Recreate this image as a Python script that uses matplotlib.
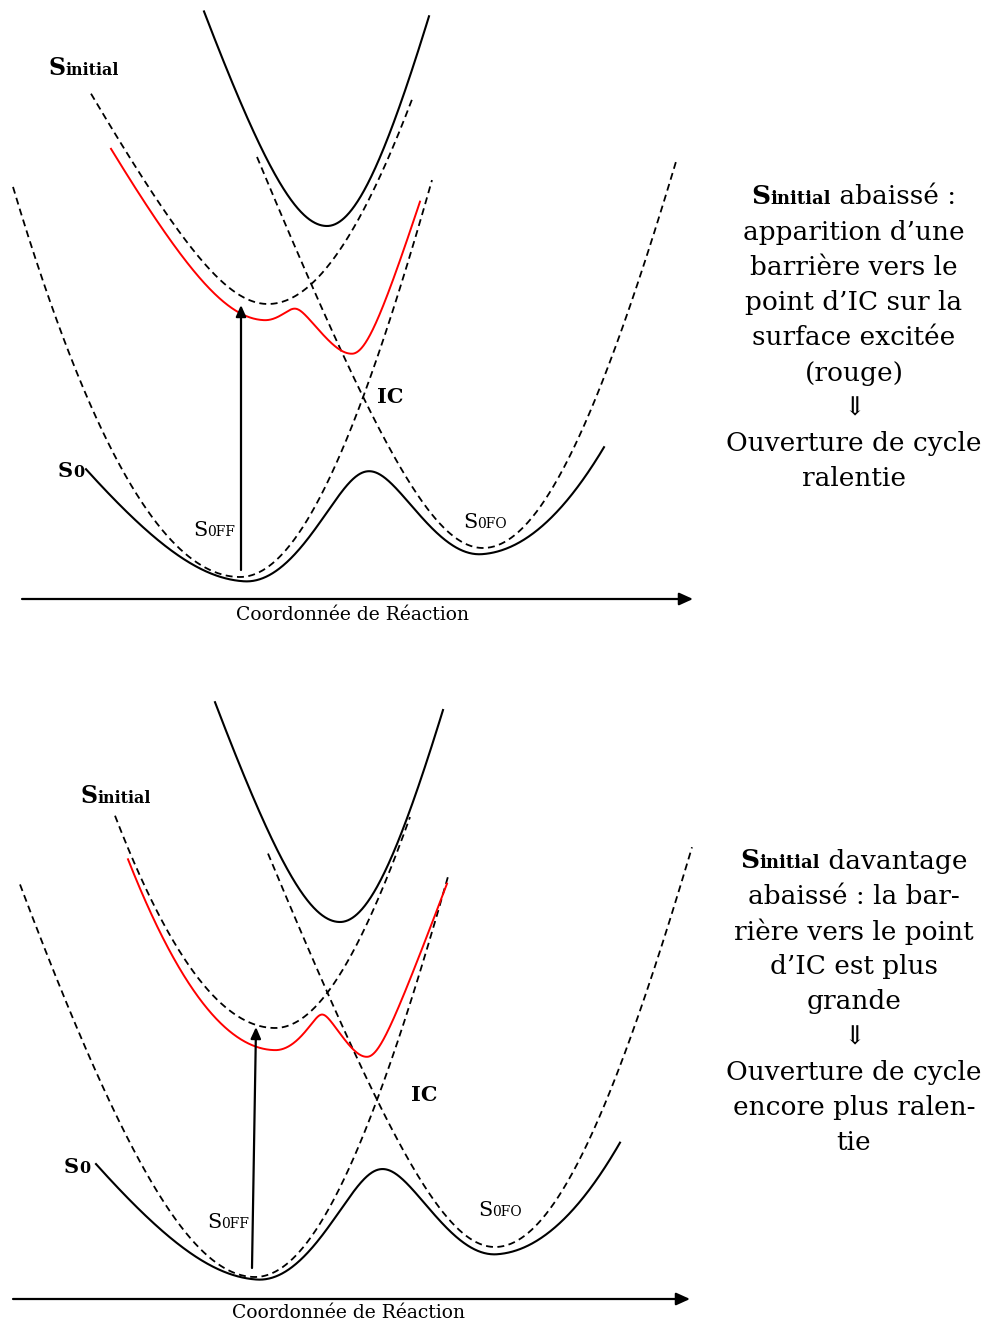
import numpy as np
import matplotlib
matplotlib.use('Agg')
import matplotlib.pyplot as plt
from matplotlib.offsetbox import TextArea, HPacker, AnnotationBbox

plt.rcParams['font.family'] = ['DejaVu Serif']
plt.rcParams['lines.scale_dashes'] = False

# Each well: (x of minimum, y of minimum, left slope, left width, right slope, right width)
# Frame is the picture's pixel frame, energy grows upward (y downward).

# --- top panel ---
top_s0ff = [240, 577, 10.0, 641, 5.0, 192.5]
top_s0ff_x = (13, 432)
top_s0fo = [483, 548, 2.6, 94.6, 4.5, 174]
top_s0fo_x = (257, 677)
top_sinit = [268, 304, 1.86, 82, 5.0, 233]
top_sinit_x = (91, 413)
top_upper = [327, 226, 3.0, 70, 4.0, 73]
top_upper_x = (204, 429)
top_s0_left = [244, 569, 1.37, 120, 5.0, 192.5]
top_s0_right = [482, 544, 2.6, 94.6, 7.0, 500]
top_s0_x = (86, 604)
top_red_left = [264, 318, 1.86, 82, 6.0, 130]
top_red_right = [352, 353, 1.5, 25, 3.2, 25]
top_red_x = (111, 420)
top_coupling = [75, 12]   # S0 barrier, red barrier

# --- bottom panel ---
bot_s0ff = [255, 1277, 3.27, 170, 5.0, 192.5]
bot_s0ff_x = (20, 448)
bot_s0fo = [495, 1247, 2.6, 94.6, 4.5, 174]
bot_s0fo_x = (268, 692)
bot_sinit = [275, 1028, 8.5, 500, 4.48, 170]
bot_sinit_x = (115, 410)
bot_upper = [340, 922, 3.0, 70, 4.0, 73.6]
bot_upper_x = (215, 443)
bot_s0_left = [257, 1267, 1.37, 120, 5.0, 192.5]
bot_s0_right = [497, 1244, 2.6, 94.6, 7.2, 500]
bot_s0_x = (96, 620)
bot_red_left = [275, 1049, 9.0, 500, 6.0, 136]
bot_red_right = [367, 1056, 1.8, 20, 2.7, 18]
bot_red_x = (128, 447)
bot_coupling = [76, 12]

top_note_head = 'abaissé :'
top_note = ['apparition d’une', 'barrière vers le', 'point d’IC sur la',
            'surface excitée', '(rouge)', '⇓', 'Ouverture de cycle', 'ralentie']
bot_note_head = 'davantage'
bot_note = ['abaissé : la bar-', 'rière vers le point', 'd’IC est plus', 'grande',
            '⇓', 'Ouverture de cycle', 'encore plus ralen-', 'tie']


def well(x, p):
    x0, y0, sl, wl, sr, wr = p
    dx = x - x0
    s = np.where(dx < 0, sl, sr)
    w = np.where(dx < 0, wl, wr)
    return y0 - s * (np.sqrt(w ** 2 + dx ** 2) - w)


def lower(y1, y2, c):
    # lower-energy branch of two coupled curves (y grows downward)
    return (y1 + y2) / 2 + np.sqrt(((y1 - y2) / 2) ** 2 + c ** 2)


def label(ax, parts, xy):
    boxes = [TextArea(t, textprops=p) for t, p in parts]
    pack = HPacker(children=boxes, align='baseline', pad=0, sep=0)
    ab = AnnotationBbox(pack, xy, xycoords='data', box_alignment=(0.5, 0.5),
                        frameon=False, pad=0)
    ax.add_artist(ab)


def panel(ax, s0ff, s0ff_x, s0fo, s0fo_x, sinit, sinit_x, upper, upper_x,
          s0l, s0r, s0_x, red_l, red_r, red_x, coupling):
    dash = dict(color='k', lw=1.3, ls=(0, (5.0, 3.2)))
    for p, rng in [(s0ff, s0ff_x), (s0fo, s0fo_x), (sinit, sinit_x)]:
        x = np.linspace(rng[0], rng[1], 500)
        ax.plot(x, well(x, p), **dash)

    x = np.linspace(upper_x[0], upper_x[1], 500)
    ax.plot(x, well(x, upper), color='k', lw=1.5)

    x = np.linspace(s0_x[0], s0_x[1], 800)
    ax.plot(x, lower(well(x, s0l), well(x, s0r), coupling[0]), color='k', lw=1.5)

    x = np.linspace(red_x[0], red_x[1], 800)
    ax.plot(x, lower(well(x, red_l), well(x, red_r), coupling[1]),
            color='#ff0000', lw=1.4)


fig = plt.figure(figsize=(9.85, 13.26), dpi=100)
ax = fig.add_axes([0, 0, 1, 1])
ax.set_xlim(0, 985)
ax.set_ylim(1326, 0)
ax.axis('off')

panel(ax, top_s0ff, top_s0ff_x, top_s0fo, top_s0fo_x, top_sinit, top_sinit_x,
      top_upper, top_upper_x, top_s0_left, top_s0_right, top_s0_x,
      top_red_left, top_red_right, top_red_x, top_coupling)
panel(ax, bot_s0ff, bot_s0ff_x, bot_s0fo, bot_s0fo_x, bot_sinit, bot_sinit_x,
      bot_upper, bot_upper_x, bot_s0_left, bot_s0_right, bot_s0_x,
      bot_red_left, bot_red_right, bot_red_x, bot_coupling)

# reaction-coordinate axes and excitation arrows
axis_arrow = dict(arrowstyle='-|>,head_length=0.55,head_width=0.25', color='k',
                  lw=1.6, mutation_scale=15, shrinkA=0, shrinkB=0)
exc_arrow = dict(arrowstyle='-|>,head_length=0.45,head_width=0.2', color='k',
                 lw=1.6, mutation_scale=15, shrinkA=0, shrinkB=0)
ax.annotate('', xy=(693, 599), xytext=(22, 599), arrowprops=axis_arrow)
ax.annotate('', xy=(690, 1299), xytext=(13, 1299), arrowprops=axis_arrow)
ax.annotate('', xy=(241, 305), xytext=(241, 570), arrowprops=exc_arrow)
ax.annotate('', xy=(256, 1027), xytext=(252, 1268), arrowprops=exc_arrow)

ax.text(353, 615, 'Coordonnée de Réaction', fontsize=13.5, ha='center', va='center')
ax.text(349, 1313, 'Coordonnée de Réaction', fontsize=13.5, ha='center', va='center')

# curve labels
bold_big = dict(fontsize=17, fontweight='bold')
bold_small = dict(fontsize=11.5, fontweight='bold')
reg_big = dict(fontsize=15)
reg_small = dict(fontsize=10)
for xy in [(84, 68), (116, 796)]:
    label(ax, [('S', bold_big), ('initial', bold_small)], xy)
for xy in [(71, 471), (77, 1167)]:
    label(ax, [('S', dict(fontsize=15, fontweight='bold')), ('0', bold_small)], xy)
for xy in [(214, 531), (228, 1223)]:
    label(ax, [('S', reg_big), ('0FF', reg_small)], xy)
for xy in [(485, 523), (500, 1211)]:
    label(ax, [('S', reg_big), ('0FO', reg_small)], xy)
ax.text(390, 397, 'IC', fontsize=15, fontweight='bold', ha='center', va='center')
ax.text(424, 1095, 'IC', fontsize=15, fontweight='bold', ha='center', va='center')

# explanatory notes on the right
note_size = 19
step = 35.2
for y0, head, lines in [(197, top_note_head, top_note), (861, bot_note_head, bot_note)]:
    label(ax, [('S', dict(fontsize=note_size, fontweight='bold')),
               ('initial', dict(fontsize=13, fontweight='bold')),
               (' ' + head, dict(fontsize=note_size))], (854, y0))
    for i, line in enumerate(lines):
        ax.text(854, y0 + step * (i + 1), line, fontsize=note_size,
                ha='center', va='center')

fig.savefig('out.png', dpi=100)
